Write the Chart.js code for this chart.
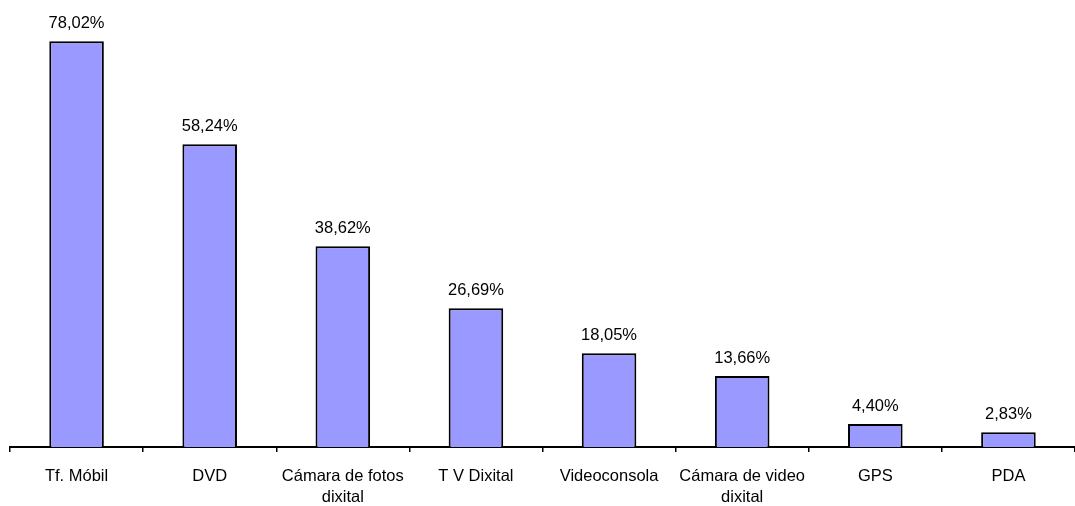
<!DOCTYPE html>
<html>
<head>
<meta charset="utf-8">
<script src="https://cdn.jsdelivr.net/npm/chart.js@4/dist/chart.umd.min.js"></script>
<style>
  html, body { margin: 0; padding: 0; background: #fff; }
  #wrap { width: 1075px; height: 506px; }
</style>
</head>
<body>
<div id="wrap"><canvas id="myChart1"></canvas></div>
<script>
const categories = [
  'Tf. Móbil', 'DVD', ['Cámara de fotos', 'dixital'], 'T V Dixital',
  'Videoconsola', ['Cámara de video', 'dixital'], 'GPS', 'PDA'
];
const percentages = [78.02, 58.24, 38.62, 26.69, 18.05, 13.66, 4.40, 2.83];

const fontFamily = '"Liberation Sans", Arial, sans-serif';

// writes the value above each bar, with a decimal comma
const valueLabels = {
  id: 'valueLabels',
  afterDatasetsDraw(chart) {
    const c = chart.ctx;
    const meta = chart.getDatasetMeta(0);
    c.save();
    c.font = '16.5px ' + fontFamily;
    c.fillStyle = '#000';
    c.textAlign = 'center';
    c.textBaseline = 'alphabetic';
    meta.data.forEach((bar, i) => {
      const txt = percentages[i].toFixed(2).replace('.', ',') + '%';
      c.fillText(txt, bar.x, bar.y - 13);
    });
    c.restore();
  }
};

const ctx = document.getElementById('myChart1');

new Chart(ctx, {
  type: 'bar',
  data: {
    labels: categories,
    datasets: [{
      data: percentages,
      backgroundColor: '#9999FF',
      borderColor: '#000',
      borderWidth: 2,
      categoryPercentage: 1,
      barPercentage: 0.41
    }]
  },
  options: {
    responsive: true,
    maintainAspectRatio: false,
    animation: false,
    layout: { padding: { left: 10, right: 0, top: 31, bottom: 0 } },
    plugins: {
      legend: { display: false },
      tooltip: { enabled: false }
    },
    scales: {
      x: {
        grid: {
          offset: true,
          drawOnChartArea: false,
          color: '#000',
          lineWidth: 1.5,
          tickLength: 5
        },
        border: { display: true, color: '#000', width: 2 },
        ticks: {
          color: '#000',
          padding: 13,
          maxRotation: 0,
          autoSkip: false,
          font: { family: fontFamily, size: 16.5, lineHeight: 1.33 }
        },
        afterFit(scale) { scale.height = 59; }
      },
      y: {
        display: false,
        min: 0,
        max: 80
      }
    }
  },
  plugins: [valueLabels]
});
</script>
</body>
</html>
